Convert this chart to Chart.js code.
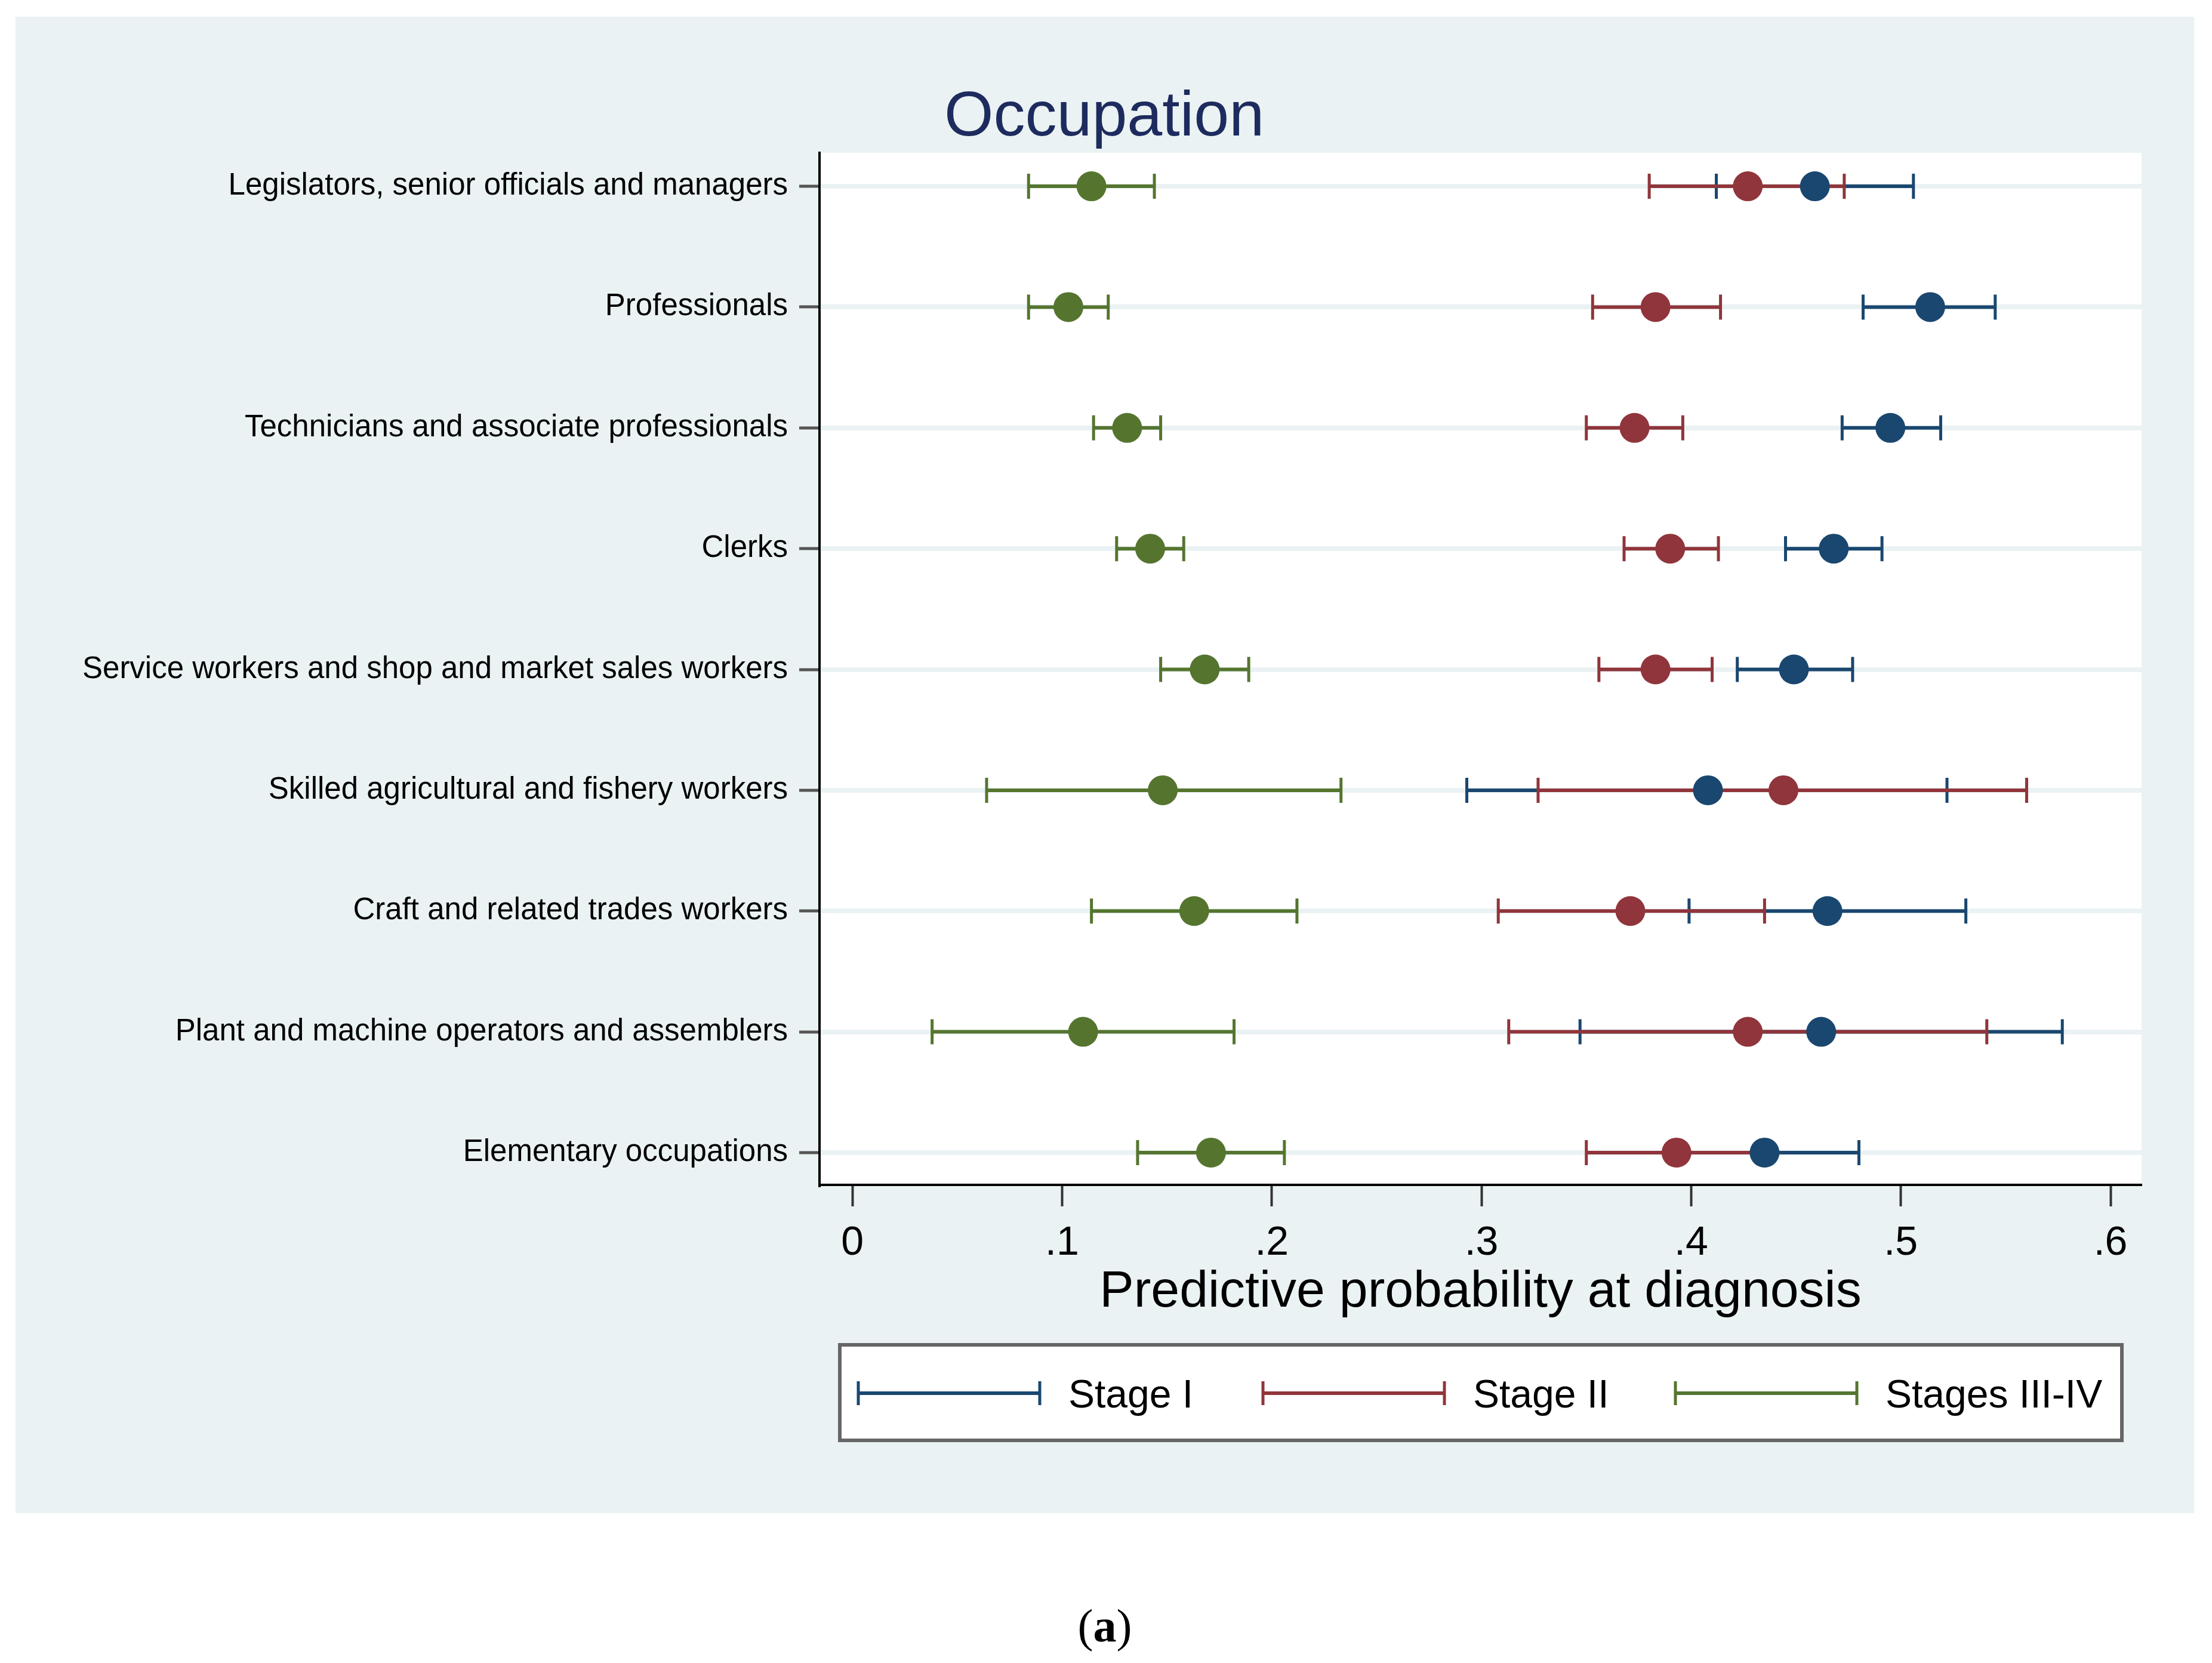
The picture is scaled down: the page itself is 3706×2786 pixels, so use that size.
<!DOCTYPE html>
<html>
<head>
<meta charset="utf-8">
<title>Occupation</title>
<script src="https://cdn.jsdelivr.net/npm/chart.js@4.4.1/dist/chart.umd.min.js"></script>
<style>
  html, body { margin: 0; padding: 0; background: #fff; }
  #wrap { width: 3706px; height: 2786px; }
</style>
</head>
<body>
<div id="wrap"><canvas id="occChart" width="3706" height="2786"></canvas></div>
<script>
// Predictive probability at diagnosis by occupation and stage

var categories = [
  'Legislators, senior officials and managers',
  'Professionals',
  'Technicians and associate professionals',
  'Clerks',
  'Service workers and shop and market sales workers',
  'Skilled agricultural and fishery workers',
  'Craft and related trades workers',
  'Plant and machine operators and assemblers',
  'Elementary occupations'
];

var xTickValues = [0, 0.1, 0.2, 0.3, 0.4, 0.5, 0.6];
var xTickLabels = ['0', '.1', '.2', '.3', '.4', '.5', '.6'];

var stageLabels = ['Stage I', 'Stage II', 'Stages III-IV'];

// Stage I
var stage1Est = [0.459, 0.514, 0.495, 0.468, 0.449, 0.408, 0.465, 0.462, 0.435];
var stage1Lo  = [0.412, 0.482, 0.472, 0.445, 0.422, 0.293, 0.399, 0.347, 0.390];
var stage1Hi  = [0.506, 0.545, 0.519, 0.491, 0.477, 0.522, 0.531, 0.577, 0.480];

// Stage II
var stage2Est = [0.427, 0.383, 0.373, 0.390, 0.383, 0.444, 0.371, 0.427, 0.393];
var stage2Lo  = [0.380, 0.353, 0.350, 0.368, 0.356, 0.327, 0.308, 0.313, 0.350];
var stage2Hi  = [0.473, 0.414, 0.396, 0.413, 0.410, 0.560, 0.435, 0.541, 0.436];

// Stages III-IV
var stage3Est = [0.114, 0.103, 0.131, 0.142, 0.168, 0.148, 0.163, 0.110, 0.171];
var stage3Lo  = [0.084, 0.084, 0.115, 0.126, 0.147, 0.064, 0.114, 0.038, 0.136];
var stage3Hi  = [0.144, 0.122, 0.147, 0.158, 0.189, 0.233, 0.212, 0.182, 0.206];

var COLORS = {
  navy: '#1A476F',
  maroon: '#90353B',
  green: '#55752F',
  region: '#EAF2F3',
  title: '#1E2B5E',
  legendBorder: '#666666'
};
var FONT = "'Liberation Sans', Arial, sans-serif";

var series = [
  { label: stageLabels[0], color: COLORS.navy,   est: stage1Est, lo: stage1Lo, hi: stage1Hi },
  { label: stageLabels[1], color: COLORS.maroon, est: stage2Est, lo: stage2Lo, hi: stage2Hi },
  { label: stageLabels[2], color: COLORS.green,  est: stage3Est, lo: stage3Lo, hi: stage3Hi }
];

function toPoints(est) {
  return est.map(function (v, i) { return { x: v, y: i }; });
}

function drawCapLine(ctx, x0, x1, y, color, capHalf) {
  ctx.strokeStyle = color;
  ctx.lineWidth = 6;
  ctx.beginPath();
  ctx.moveTo(x0, y);
  ctx.lineTo(x1, y);
  ctx.stroke();
  ctx.lineWidth = 5;
  ctx.beginPath();
  ctx.moveTo(x0, y - capHalf); ctx.lineTo(x0, y + capHalf);
  ctx.moveTo(x1, y - capHalf); ctx.lineTo(x1, y + capHalf);
  ctx.stroke();
}

var backgroundPlugin = {
  id: 'stataBackground',
  beforeDraw: function (chart) {
    var ctx = chart.ctx, a = chart.chartArea;
    ctx.save();
    ctx.fillStyle = '#ffffff';
    ctx.fillRect(0, 0, chart.width, chart.height);
    ctx.fillStyle = COLORS.region;
    ctx.fillRect(26, 28, 3650, 2507);
    ctx.fillStyle = '#ffffff';
    ctx.fillRect(a.left, a.top, a.right - a.left, a.bottom - a.top);
    ctx.restore();
  }
};

var errorBarPlugin = {
  id: 'errorBars',
  beforeDatasetsDraw: function (chart) {
    var ctx = chart.ctx, xs = chart.scales.x, ys = chart.scales.y;
    ctx.save();
    series.forEach(function (s) {
      for (var i = 0; i < categories.length; i++) {
        var y = ys.getPixelForValue(i);
        drawCapLine(ctx, xs.getPixelForValue(s.lo[i]), xs.getPixelForValue(s.hi[i]), y, s.color, 21);
      }
    });
    ctx.restore();
  }
};

var textPlugin = {
  id: 'titlesAndLegend',
  afterDraw: function (chart) {
    var ctx = chart.ctx, a = chart.chartArea;
    ctx.save();

    // title
    ctx.fillStyle = COLORS.title;
    ctx.font = '106px ' + FONT;
    ctx.textAlign = 'left';
    ctx.textBaseline = 'alphabetic';
    ctx.fillText('Occupation', 1582, 227);

    // x axis title
    ctx.fillStyle = '#000';
    ctx.font = '86px ' + FONT;
    ctx.textAlign = 'center';
    ctx.fillText('Predictive probability at diagnosis', (a.left + a.right) / 2, 2189);

    // legend box
    ctx.fillStyle = '#ffffff';
    ctx.fillRect(1404, 2250, 2154, 166);
    ctx.strokeStyle = COLORS.legendBorder;
    ctx.lineWidth = 6;
    ctx.strokeRect(1407, 2253, 2148, 160);

    var keyX = [1438, 2116, 2807];
    ctx.font = '66px ' + FONT;
    ctx.textAlign = 'left';
    series.forEach(function (s, i) {
      drawCapLine(ctx, keyX[i], keyX[i] + 304, 2334, s.color, 20);
      ctx.fillStyle = '#000';
      ctx.fillText(s.label, keyX[i] + 352, 2358);
    });

    // panel caption
    ctx.fillStyle = '#000';
    ctx.textAlign = 'left';
    var cap = [['(', 'normal'], ['a', 'bold'], [')', 'normal']];
    var widths = cap.map(function (c) {
      ctx.font = c[1] + " 78px 'Liberation Serif', 'Times New Roman', serif";
      return ctx.measureText(c[0]).width;
    });
    var total = widths.reduce(function (p, w) { return p + w; }, 0);
    var cx = 1851 - total / 2;
    cap.forEach(function (c, i) {
      ctx.font = c[1] + " 78px 'Liberation Serif', 'Times New Roman', serif";
      ctx.fillText(c[0], cx, 2750);
      cx += widths[i];
    });

    ctx.restore();
  }
};

var ctx = document.getElementById('occChart');
new Chart(ctx, {
  type: 'scatter',
  data: {
    datasets: series.map(function (s) {
      return {
        label: s.label,
        data: toPoints(s.est),
        backgroundColor: s.color,
        borderWidth: 0,
        pointRadius: 25,
        pointHoverRadius: 25
      };
    })
  },
  options: {
    responsive: false,
    devicePixelRatio: 1,
    animation: false,
    layout: { padding: { left: 0, top: 256, right: 118, bottom: 0 } },
    plugins: {
      legend: { display: false },
      title: { display: false },
      tooltip: { enabled: false }
    },
    scales: {
      x: {
        type: 'linear',
        min: -0.0157,
        max: 0.6148,
        afterBuildTicks: function (scale) {
          scale.ticks = xTickValues.map(function (v) { return { value: v }; });
        },
        afterFit: function (scale) { scale.height = 801; },
        ticks: {
          autoSkip: false,
          maxRotation: 0,
          padding: 21,
          color: '#000',
          font: { family: FONT, size: 68 },
          callback: function (v, i) { return xTickLabels[i]; }
        },
        grid: { drawOnChartArea: false, tickLength: 36, tickColor: '#333', tickWidth: 4 },
        border: { display: true, color: '#000', width: 4 }
      },
      y: {
        type: 'linear',
        min: -0.277,
        max: 8.267,
        reverse: true,
        afterBuildTicks: function (scale) {
          scale.ticks = categories.map(function (c, i) { return { value: i }; });
        },
        afterFit: function (scale) { scale.width = 1373; },
        ticks: {
          autoSkip: false,
          padding: 19,
          color: '#000',
          font: { family: FONT, size: 51 },
          callback: function (v, i) { return categories[i]; }
        },
        grid: { color: COLORS.region, lineWidth: 8, tickColor: '#555', tickWidth: 5, tickLength: 34 },
        border: { display: true, color: '#000', width: 4 }
      }
    }
  },
  plugins: [backgroundPlugin, errorBarPlugin, textPlugin]
});
</script>
</body>
</html>
